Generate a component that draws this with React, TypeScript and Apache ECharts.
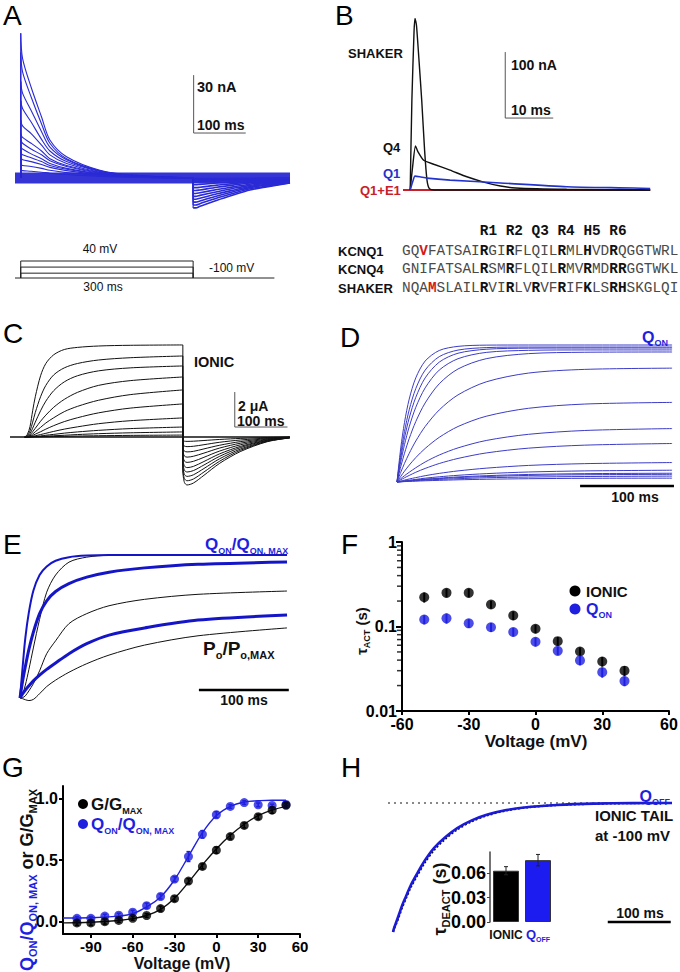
import React, { useEffect, useRef } from "react";
import * as echarts from "echarts";

const FF = "'Liberation Sans', Arial, Helvetica, sans-serif";
const MONO = "'Liberation Mono', 'Courier New', monospace";
const BLUE = "#1f1fe0";
const TRACE_BLUE = "#2a2ad6";
const D_BLUE = "#3c3cc8";
const E_BLUE = "#1515c8";
const RED = "#c8202a";

// ---------- Panel A : gating current traces (nA vs ms) ----------
const aTime = [0, 3.5, 20, 40, 56, 88, 152, 216, 331];
const aTraces = [
  [75, 62, 47, 31.6, 19.7, 11, 4, 1.5, 0],
  [65, 55, 42, 28, 18, 10, 3.8, 1.4, 0],
  [50, 44, 35, 24, 16, 9.5, 3.6, 1.3, 0],
  [40, 36, 29, 20, 14, 8.5, 3.4, 1.2, 0],
  [30, 27, 23, 17, 12, 7.5, 3, 1.1, 0],
  [23, 21, 18, 14, 10, 6.5, 2.8, 1, 0],
  [19.7, 18, 15, 12, 9, 6, 2.5, 0.9, 0],
  [16, 15, 12.5, 10, 7.5, 5, 2.2, 0.8, 0],
  [13, 12, 10.5, 8.5, 6.5, 4.5, 2, 0.7, 0],
  [10.4, 9.5, 8.5, 7, 5.5, 3.8, 1.7, 0.6, 0],
  [7, 6.5, 6, 5, 4, 2.8, 1.3, 0.4, 0],
  [4, 3.8, 3.5, 3, 2.5, 1.8, 0.8, 0.3, 0],
];
const aTailTime = [331, 336, 344, 377, 408, 440, 472, 517];
const aTails = [
  [-15.5, -15.5, -14.7, -11.5, -8.8, -6.2, -4.6, -2.6],
  [-14, -14, -13.3, -10.4, -8, -5.6, -4.2, -2.4],
  [-12.5, -12.5, -11.9, -9.3, -7.1, -5, -3.7, -2.1],
  [-11, -11, -10.5, -8.2, -6.3, -4.4, -3.3, -1.9],
  [-9.5, -9.5, -9, -7.1, -5.4, -3.8, -2.8, -1.6],
  [-8, -8, -7.6, -6, -4.6, -3.2, -2.4, -1.4],
  [-6.5, -6.5, -6.2, -4.8, -3.7, -2.6, -1.9, -1.1],
  [-5, -5, -4.8, -3.7, -2.9, -2, -1.5, -0.9],
  [-3.5, -3.5, -3.3, -2.6, -2, -1.4, -1, -0.6],
  [-2, -2, -1.9, -1.5, -1.1, -0.8, -0.6, -0.3],
  [-1, -1, -0.95, -0.75, -0.6, -0.4, -0.3, -0.2],
  [-0.3, -0.3, -0.3, -0.25, -0.2, -0.15, -0.1, -0.05],
];
const aStepEnd = 331;
const aProtocolSteps = [40, -10, -60];
const aHolding = -100;
const aProtocolEnd = 487;
const aScaleBar = [[332, 53.3], [332, 23.3], [432, 23.3]];

// ---------- Panel B : gating currents (nA vs ms) ----------
const bShakerT = [0, 0.35, 0.8, 1.0, 1.3, 1.8, 2.4, 3.0, 3.5, 4.0, 5, 50];
const bShakerV = [0, 136, 240, 260, 250, 200, 136, 60, 15, 2, 0, 0];
const bQ4T = [0, 0.5, 1.1, 1.6, 2.8, 4.9, 8.3, 11.8, 15.3, 18.8, 22, 32.6, 50];
const bQ4V = [0, 35, 66.7, 58, 45, 39, 30, 20, 12, 6, 3, 1, 0];
const bQ1T = [0, 0.5, 1.0, 2, 3.5, 8.3, 18.8, 32.6, 46.5, 50];
const bQ1V = [0, 12, 21, 20, 18, 15, 10.6, 5, 3, 2];
const bE1T = [-1.5, 50];
const bE1V = [0, 0];
const bScaleBar = [[19.8, 209], [19.8, 109], [29.8, 109]];

const seqNames = ["KCNQ1", "KCNQ4", "SHAKER"];
const seqs = [
  "GQVFATSAIRGIRFLQILRMLHVDRQGGTWRL",
  "GNIFATSALRSMRFLQILRMVRMDRRGGTWKL",
  "NQAMSLAILRVIRLVRVFRIFKLSRHSKGLQI",
];
const seqBold = [
  [9, 12, 18, 21, 24],
  [9, 12, 18, 21, 24, 25],
  [9, 12, 15, 18, 21, 24, 25],
];
const seqRed = [[2], [], [3]];
const seqHeader = "R1 R2 Q3 R4 H5 R6";

// ---------- Panel C : ionic currents (uA vs ms) ----------
const cTime = [0, 5, 10, 15, 20, 30, 40, 55, 75, 100, 140, 200, 300];
const cRise = [
  [0, 0.15, 0.6, 1.5, 2.3, 3.5, 4.2, 4.7, 5.0, 5.12, 5.2, 5.24, 5.26],
  [0, 0.08, 0.35, 0.85, 1.4, 2.3, 2.95, 3.55, 3.95, 4.2, 4.4, 4.53, 4.63],
  [0, 0.05, 0.2, 0.5, 0.85, 1.5, 2.05, 2.65, 3.15, 3.5, 3.78, 3.95, 4.06],
  [0, 0.03, 0.12, 0.3, 0.5, 0.9, 1.25, 1.7, 2.15, 2.55, 2.95, 3.22, 3.43],
  [0, 0.02, 0.07, 0.17, 0.3, 0.55, 0.8, 1.1, 1.45, 1.75, 2.1, 2.42, 2.69],
  [0, 0.01, 0.04, 0.09, 0.16, 0.3, 0.45, 0.65, 0.88, 1.1, 1.38, 1.65, 1.89],
  [0, 0, 0.02, 0.04, 0.07, 0.14, 0.21, 0.32, 0.45, 0.58, 0.76, 0.93, 1.09],
  [0, 0, 0.01, 0.02, 0.03, 0.06, 0.1, 0.15, 0.22, 0.29, 0.38, 0.48, 0.57],
  [0, 0, 0, 0.01, 0.015, 0.03, 0.05, 0.07, 0.1, 0.14, 0.19, 0.24, 0.29],
  [0, 0, 0, 0, 0.005, 0.01, 0.018, 0.027, 0.04, 0.055, 0.073, 0.092, 0.11],
];
const cTailTime = [300, 303, 308, 320, 340, 370, 410, 460, 503];
const cTails = [
  [-2.05, -2.6, -2.74, -2.63, -2.19, -1.5, -0.82, -0.27, -0.05],
  [-1.88, -2.38, -2.5, -2.4, -2.0, -1.38, -0.75, -0.25, -0.05],
  [-1.69, -2.14, -2.25, -2.16, -1.8, -1.24, -0.68, -0.23, -0.04],
  [-1.5, -1.9, -2.0, -1.92, -1.6, -1.1, -0.6, -0.2, -0.04],
  [-1.31, -1.66, -1.75, -1.68, -1.4, -0.96, -0.53, -0.18, -0.03],
  [-1.09, -1.38, -1.45, -1.39, -1.16, -0.8, -0.44, -0.15, -0.03],
  [-0.86, -1.09, -1.15, -1.1, -0.92, -0.63, -0.35, -0.12, -0.02],
  [-0.64, -0.81, -0.85, -0.82, -0.68, -0.47, -0.26, -0.09, -0.02],
  [-0.41, -0.52, -0.55, -0.53, -0.44, -0.3, -0.17, -0.06, -0.01],
  [-0.19, -0.24, -0.25, -0.24, -0.2, -0.14, -0.08, -0.03, 0],
];
const cScaleBar = [[398.5, 2.57], [398.5, 0.57], [498.5, 0.57]];

// ---------- Panel D : Q_ON (normalized) ----------
const dTime = [0, 4, 8, 13, 20, 30, 45, 65, 95, 140, 200, 293];
const dCurves = [
  [0, 0.249, 0.435, 0.605, 0.76, 0.883, 0.96, 0.99, 0.999, 1, 1, 1],
  [0, 0.207, 0.369, 0.527, 0.682, 0.817, 0.915, 0.963, 0.981, 0.985, 0.985, 0.985],
  [0, 0.177, 0.323, 0.467, 0.618, 0.76, 0.875, 0.94, 0.969, 0.977, 0.978, 0.978],
  [0, 0.148, 0.273, 0.403, 0.545, 0.687, 0.817, 0.9, 0.946, 0.961, 0.964, 0.964],
  [0, 0.112, 0.21, 0.317, 0.441, 0.577, 0.717, 0.825, 0.9, 0.937, 0.947, 0.949],
  [0, 0.071, 0.136, 0.209, 0.299, 0.405, 0.526, 0.636, 0.731, 0.795, 0.822, 0.831],
  [0, 0.041, 0.079, 0.123, 0.178, 0.245, 0.326, 0.405, 0.48, 0.538, 0.569, 0.581],
  [0, 0.024, 0.046, 0.071, 0.104, 0.146, 0.197, 0.249, 0.303, 0.348, 0.376, 0.39],
  [0, 0.016, 0.031, 0.048, 0.071, 0.099, 0.135, 0.172, 0.212, 0.247, 0.269, 0.281],
  [0, 0.007, 0.014, 0.022, 0.032, 0.046, 0.063, 0.081, 0.101, 0.121, 0.134, 0.142],
  [0, 0.004, 0.008, 0.013, 0.019, 0.028, 0.038, 0.049, 0.061, 0.073, 0.081, 0.086],
  [0, 0.003, 0.006, 0.01, 0.015, 0.021, 0.028, 0.037, 0.046, 0.055, 0.061, 0.064],
  [0, 0.003, 0.006, 0.009, 0.013, 0.018, 0.025, 0.032, 0.04, 0.048, 0.053, 0.056],
  [0, 0.002, 0.004, 0.007, 0.01, 0.014, 0.019, 0.024, 0.031, 0.036, 0.04, 0.043],
  [0, 0.001, 0.003, 0.004, 0.006, 0.009, 0.012, 0.016, 0.02, 0.024, 0.027, 0.028],
];
const dScaleBar = [[195, -0.03], [295, -0.03]];

// ---------- Panel E : Q_ON/Q_ON,MAX and Po/Po,MAX ----------
const eTime = [0, 3, 6, 10, 15, 22, 30, 40, 55, 75, 100, 140, 200, 300];
const eBlue1 = [0, 0.22, 0.42, 0.6, 0.75, 0.86, 0.92, 0.96, 0.985, 0.996, 1, 1, 1, 1];
const eBlack1 = [0, 0.03, 0.09, 0.2, 0.35, 0.55, 0.74, 0.86, 0.95, 0.985, 0.998, 1, 1, 1];
const eBlue2 = [0, 0.12, 0.22, 0.34, 0.46, 0.59, 0.68, 0.745, 0.8, 0.845, 0.88, 0.91, 0.935, 0.951];
const eBlack2 = [0, 0.003, 0.015, 0.05, 0.1, 0.19, 0.31, 0.4, 0.52, 0.59, 0.645, 0.69, 0.725, 0.748];
const eBlue3 = [0, 0.03, 0.055, 0.085, 0.12, 0.16, 0.2, 0.245, 0.31, 0.38, 0.44, 0.49, 0.545, 0.58];
const eBlack3 = [0, -0.005, -0.012, -0.018, -0.01, 0.03, 0.08, 0.125, 0.18, 0.24, 0.3, 0.37, 0.435, 0.49];
const eScaleBar = [[201, 0.056], [302, 0.056]];

// ---------- Panel F : tau_ACT vs voltage ----------
const fVolt = [-50, -40, -30, -20, -10, 0, 10, 20, 30, 40];
const fIonic = [0.222, 0.25, 0.25, 0.182, 0.135, 0.094, 0.067, 0.0506, 0.0385, 0.03];
const fIonicErr = [0.03, 0.03, 0.03, 0.02, 0.016, 0.011, 0.008, 0.006, 0.005, 0.004];
const fQon = [0.121, 0.125, 0.109, 0.098, 0.086, 0.066, 0.0515, 0.0397, 0.0288, 0.0226];
const fQonErr = [0.015, 0.017, 0.013, 0.012, 0.01, 0.008, 0.006, 0.005, 0.004, 0.003];
const fMinor = [0.02, 0.03, 0.04, 0.05, 0.06, 0.07, 0.08, 0.09, 0.2, 0.3, 0.4, 0.5, 0.6, 0.7, 0.8, 0.9];

// ---------- Panel G : normalized G-V and Q-V ----------
const gVolt = [-100, -90, -80, -70, -60, -50, -40, -30, -20, -10, 0, 10, 20, 30, 40, 50];
const gG = [-0.01, -0.01, 0.0, 0.01, 0.027, 0.05, 0.106, 0.186, 0.329, 0.448, 0.58, 0.69, 0.78, 0.851, 0.904, 0.944];
const gGErr = [0.02, 0.02, 0.02, 0.015, 0.015, 0.015, 0.02, 0.02, 0.02, 0.02, 0.025, 0.02, 0.02, 0.02, 0.025, 0.02];
const gQ = [0.027, 0.027, 0.045, 0.053, 0.077, 0.13, 0.204, 0.345, 0.528, 0.708, 0.867, 0.934, 0.966, 0.947, 0.942, 0.95];
const gQErr = [0.015, 0.015, 0.015, 0.015, 0.015, 0.02, 0.02, 0.02, 0.04, 0.03, 0.025, 0.015, 0.015, 0.015, 0.01, 0.01];
const gFitV = [-110, -90, -70, -60, -50, -40, -30, -20, -10, 0, 10, 20, 30, 40, 50];
const gFitG = [-0.01, -0.005, 0.01, 0.025, 0.05, 0.1, 0.19, 0.32, 0.46, 0.59, 0.7, 0.79, 0.86, 0.905, 0.935];
const gFitQ = [0.03, 0.032, 0.045, 0.065, 0.12, 0.2, 0.34, 0.53, 0.72, 0.86, 0.935, 0.97, 0.98, 0.985, 0.985];
const gTicks = [-90, -60, -30, 0, 30, 60];
const gYTicks = [0, 0.5, 1.0];

// ---------- Panel H : deactivation ----------
const hTime = [0, 2, 5, 9, 14, 20, 28, 38, 50, 65, 82, 102, 125, 150, 180, 215, 260, 320, 380, 443];
const hQoff = [-1.0, -0.965, -0.925, -0.87, -0.8, -0.73, -0.64, -0.55, -0.45, -0.35, -0.27, -0.195, -0.135, -0.09, -0.055, -0.031, -0.015, -0.005, -0.001, 0];
const hIonic = [-1.0, -0.97, -0.935, -0.885, -0.815, -0.745, -0.655, -0.565, -0.465, -0.365, -0.282, -0.205, -0.142, -0.095, -0.058, -0.033, -0.016, -0.006, -0.001, 0];
const hRef = [[-8, 0], [443, 0]];
const hScaleBar = [[341, -0.922], [441, -0.922]];
const hBarCats = ["IONIC", "QOFF"];
const hBarVals = [0.063, 0.076];
const hBarErr = [0.005, 0.007];
const hYTicks = [0, 0.03, 0.06];

// ---------- helpers ----------
const zip = (xs: number[], ys: number[]) => xs.map((x, i) => [x, ys[i]]);

const lineS = (gi: number, pts: any[], color: string, width: number, o: any = {}) => ({
  type: "line",
  xAxisIndex: gi,
  yAxisIndex: gi,
  data: pts,
  symbol: "none",
  silent: true,
  clip: false,
  smooth: o.smooth || false,
  z: o.z || 2,
  lineStyle: { color, width, type: o.type || "solid", opacity: o.opacity == null ? 1 : o.opacity },
});

const segs = (gi: number, rows: number[][], color: string, width: number) => ({
  type: "custom",
  xAxisIndex: gi,
  yAxisIndex: gi,
  data: rows,
  encode: { x: [0, 2], y: [1, 3] },
  silent: true,
  clip: false,
  renderItem: (_p: any, api: any) => {
    const a = api.coord([api.value(0), api.value(1)]);
    const b = api.coord([api.value(2), api.value(3)]);
    return {
      type: "line",
      shape: { x1: a[0], y1: a[1], x2: b[0], y2: b[1] },
      style: { stroke: color, lineWidth: width },
    };
  },
});

const errS = (gi: number, xs: any[], ys: number[], es: number[], color: string, cap: number, w: number) => ({
  type: "custom",
  xAxisIndex: gi,
  yAxisIndex: gi,
  data: xs.map((x, i) => [x, ys[i], es[i]]),
  encode: { x: 0, y: 1 },
  silent: true,
  z: 3,
  renderItem: (_p: any, api: any) => {
    const x = api.value(0), y = api.value(1), e = api.value(2);
    const a = api.coord([x, y + e]);
    const b = api.coord([x, y - e]);
    const st = { stroke: color, lineWidth: w };
    return {
      type: "group",
      children: [
        { type: "line", shape: { x1: a[0], y1: a[1], x2: b[0], y2: b[1] }, style: st },
        { type: "line", shape: { x1: a[0] - cap, y1: a[1], x2: a[0] + cap, y2: a[1] }, style: st },
        { type: "line", shape: { x1: b[0] - cap, y1: b[1], x2: b[0] + cap, y2: b[1] }, style: st },
      ],
    };
  },
});

const R = (S: number, s: number) => {
  const m = (c: string) => ({ fontFamily: FF, fontSize: S, fontWeight: "bold", fill: c, color: c, lineHeight: S + 5 });
  const sb = (c: string) => ({ fontFamily: FF, fontSize: s, fontWeight: "bold", fill: c, color: c, lineHeight: s, verticalAlign: "bottom" });
  return { k: m("#111"), ks: sb("#111"), b: m(BLUE), bs: sb(BLUE) };
};

const T = (x: number, y: number, text: string, o: any = {}) => ({
  type: "text",
  x,
  y,
  rotation: o.rot || 0,
  silent: true,
  z: 100,
  style: {
    text,
    fontFamily: o.mono ? MONO : FF,
    fontSize: o.size || 14,
    fontWeight: o.weight || "bold",
    fill: o.color || "#111",
    align: o.align || "left",
    verticalAlign: o.va || "middle",
    rich: o.rich,
  },
});

const seqRichText = (s: string, bold: number[], red: number[]) => {
  let out = "";
  let cur = "";
  let key = "";
  for (let i = 0; i < s.length; i++) {
    const k = red.includes(i) ? "r" : bold.includes(i) ? "b" : "n";
    if (k !== key && cur) {
      out += `{${key}|${cur}}`;
      cur = "";
    }
    key = k;
    cur += s[i];
  }
  if (cur) out += `{${key}|${cur}}`;
  return out;
};
const SEQ_SIZE = 14.4;
const seqRich = {
  n: { fontFamily: MONO, fontSize: SEQ_SIZE, fill: "#4a4a4a" },
  b: { fontFamily: MONO, fontSize: SEQ_SIZE, fontWeight: "bold", fill: "#111" },
  r: { fontFamily: MONO, fontSize: SEQ_SIZE, fontWeight: "bold", fill: "#d41a1a" },
};

const hidden = (gi: number, min: number, max: number) => ({ type: "value", gridIndex: gi, min, max, show: false });

function buildOption() {
  const grids = [
    { left: 15, top: 23.6, width: 275, height: 202.65 }, // 0 A
    { left: 15, top: 259.8, width: 275, height: 19.43 }, // 1 protocol
    { left: 403, top: 10.48, width: 247.2, height: 186.1 }, // 2 B
    { left: 10, top: 339, width: 280, height: 154 }, // 3 C
    { left: 397, top: 338.15, width: 277.9, height: 150.7 }, // 4 D
    { left: 20, top: 547.85, width: 268.8, height: 157.3 }, // 5 E
    { left: 402, top: 542, width: 267, height: 169 }, // 6 F
    { left: 63, top: 786, width: 237, height: 148 }, // 7 G
    { left: 388, top: 796.55, width: 284, height: 138 }, // 8 H
    { left: 490, top: 852, width: 64, height: 70 }, // 9 H inset
  ].map((g) => ({ ...g, outerBoundsMode: "none", containLabel: false, show: false }));

  const axLabel = (size: number, margin: number) => ({
    fontFamily: FF, fontWeight: "bold", fontSize: size, color: "#000", margin,
  });
  const axLine = { show: true, onZero: false, lineStyle: { color: "#000", width: 2 } };

  const xAxis: any[] = [
    hidden(0, -11, 517),
    hidden(1, -11, 517),
    hidden(2, -1.5, 50),
    hidden(3, -28, 503.3),
    hidden(4, 0, 296),
    hidden(5, 0, 302),
    {
      type: "value", gridIndex: 6, min: -60, max: 60, interval: 30,
      axisLine: axLine, axisTick: { show: true, length: 4, lineStyle: { width: 2, color: "#000" } },
      axisLabel: axLabel(16, 5), splitLine: { show: false },
    },
    {
      type: "value", gridIndex: 7, min: -110, max: 60,
      axisLine: axLine,
      axisTick: { show: true, length: 4, customValues: gTicks, lineStyle: { width: 2, color: "#000" } },
      axisLabel: { ...axLabel(15, 5), customValues: gTicks },
      splitLine: { show: false },
    },
    hidden(8, -8, 443),
    {
      type: "category", gridIndex: 9, data: hBarCats,
      axisLine: { show: false }, axisTick: { show: false },
      axisLabel: {
        margin: 4,
        interval: 0,
        hideOverlap: false,
        formatter: (v: string) => (v === "IONIC" ? "{k|IONIC}" : "{b|Q}{bs|OFF}"),
        rich: {
          k: { fontFamily: FF, fontWeight: "bold", fontSize: 12, color: "#111", lineHeight: 17 },
          b: { fontFamily: FF, fontWeight: "bold", fontSize: 13, color: BLUE, lineHeight: 17 },
          bs: { fontFamily: FF, fontWeight: "bold", fontSize: 7, color: BLUE, lineHeight: 7, verticalAlign: "bottom" },
        },
      },
    },
  ];

  const yAxis: any[] = [
    hidden(0, -25, 80),
    hidden(1, -110, 50),
    hidden(2, -10, 272),
    hidden(3, -3.2, 5.6),
    hidden(4, -0.05, 1.05),
    hidden(5, -0.05, 1.05),
    {
      type: "log", gridIndex: 6, min: 0.01, max: 1, logBase: 10,
      axisLine: axLine, axisTick: { show: true, length: 6, lineStyle: { width: 2, color: "#000" } },
      axisLabel: { ...axLabel(16, 5), formatter: (v: number) => (v < 0.05 ? "0.01" : v < 0.5 ? "0.1" : "1") },
      splitLine: { show: false },
    },
    {
      type: "value", gridIndex: 7, min: -0.1, max: 1.1,
      axisLine: axLine,
      axisTick: { show: true, length: 4, customValues: gYTicks, lineStyle: { width: 2, color: "#000" } },
      axisLabel: { ...axLabel(16, 5), customValues: gYTicks, formatter: (v: number) => v.toFixed(1) },
      splitLine: { show: false },
    },
    hidden(8, -1.02, 0.05),
    {
      type: "value", gridIndex: 9, min: 0, max: 0.086,
      axisLine: { show: true, lineStyle: { color: "#444", width: 1.5 } },
      axisTick: { show: true, length: 3, customValues: hYTicks, lineStyle: { color: "#444" } },
      axisLabel: { ...axLabel(18, 4), customValues: hYTicks, formatter: (v: number) => v.toFixed(2) },
      splitLine: { show: false },
    },
  ];

  const series: any[] = [];
  const SM = 0.3;

  // ---- A ----
  series.push(lineS(0, [[-11, 0], [517, 0]], "#2424d2", 11, { opacity: 0.92 }));
  aTraces.forEach((tr) => series.push(lineS(0, zip(aTime, tr), TRACE_BLUE, 1.1, { smooth: SM })));
  aTails.forEach((tl) => series.push(lineS(0, zip(aTailTime, tl), TRACE_BLUE, 1.6, { smooth: SM })));
  series.push(
    segs(0, [
      ...aTraces.map((tr) => [0, 0, 0, tr[0]]),
      ...aTails.map((tl) => [aStepEnd, 0, aStepEnd, tl[0]]),
    ], TRACE_BLUE, 1.2)
  );
  series.push(lineS(0, aScaleBar, "#555", 1));
  series.push(lineS(1, [[-11, aHolding], [aProtocolEnd, aHolding]], "#222", 1));
  aProtocolSteps.forEach((v) =>
    series.push(lineS(1, [[0, aHolding], [0, v], [aStepEnd, v], [aStepEnd, aHolding]], "#222", 1))
  );

  // ---- B ----
  series.push(lineS(2, zip(bE1T, bE1V), RED, 2.2));
  series.push(lineS(2, zip(bShakerT, bShakerV), "#111", 1.4, { smooth: 0.2 }));
  series.push(lineS(2, zip(bQ4T, bQ4V), "#111", 1.4, { smooth: 0.2 }));
  series.push(lineS(2, zip(bQ1T, bQ1V), "#2233cc", 1.6, { smooth: 0.2 }));
  series.push(lineS(2, bScaleBar, "#555", 1));

  // ---- C ----
  series.push(lineS(3, [[-28, 0], [503, 0]], "#111", 1.6));
  cRise.forEach((r) => series.push(lineS(3, zip(cTime, r), "#111", 1, { smooth: SM })));
  cTails.forEach((t) => series.push(lineS(3, zip(cTailTime, t), "#111", 1, { smooth: SM })));
  series.push(segs(3, cRise.map((r, i) => [300, r[r.length - 1], 300, cTails[i][0]]), "#111", 1));
  series.push(lineS(3, cScaleBar, "#555", 1));

  // ---- D ----
  dCurves.forEach((c) => series.push(lineS(4, zip(dTime, c), D_BLUE, 1, { smooth: SM })));
  series.push(lineS(4, dScaleBar, "#000", 2.5));

  // ---- E ----
  series.push(lineS(5, zip(eTime, eBlack3), "#111", 1, { smooth: SM }));
  series.push(lineS(5, zip(eTime, eBlack2), "#111", 1, { smooth: SM }));
  series.push(lineS(5, zip(eTime, eBlack1), "#111", 1, { smooth: SM }));
  series.push(lineS(5, zip(eTime, eBlue3), E_BLUE, 3, { smooth: SM }));
  series.push(lineS(5, zip(eTime, eBlue2), E_BLUE, 3, { smooth: SM }));
  series.push(lineS(5, zip(eTime, eBlue1), E_BLUE, 2, { smooth: SM }));
  series.push(lineS(5, eScaleBar, "#000", 2.5));

  // ---- F ----
  series.push(errS(6, fVolt, fIonic, fIonicErr, "#000", 0, 2));
  series.push(errS(6, fVolt, fQon, fQonErr, BLUE, 0, 2));
  series.push({
    type: "scatter", xAxisIndex: 6, yAxisIndex: 6, data: zip(fVolt, fIonic), symbol: "circle",
    symbolSize: 10, itemStyle: { color: "#000" }, silent: true, z: 4,
  });
  series.push({
    type: "scatter", xAxisIndex: 6, yAxisIndex: 6, data: zip(fVolt, fQon), symbol: "circle",
    symbolSize: 10, itemStyle: { color: BLUE }, silent: true, z: 4,
  });
  series.push({
    type: "scatter", xAxisIndex: 6, yAxisIndex: 6, data: fMinor.map((v) => [-60, v]), symbol: "rect",
    symbolSize: [4, 1.5], symbolOffset: [-3, 0], itemStyle: { color: "#000" }, silent: true, clip: false, z: 5,
  });

  // ---- G ----
  series.push(lineS(7, zip(gFitV, gFitG), "#111", 1.4, { smooth: 0.4 }));
  series.push(lineS(7, zip(gFitV, gFitQ), BLUE, 1.4, { smooth: 0.4 }));
  series.push(errS(7, gVolt, gQ, gQErr, BLUE, 2, 1.5));
  series.push(errS(7, gVolt, gG, gGErr, "#000", 2, 1.5));
  series.push({
    type: "scatter", xAxisIndex: 7, yAxisIndex: 7, data: zip(gVolt, gQ), symbol: "circle",
    symbolSize: 9, itemStyle: { color: BLUE }, silent: true, z: 4,
  });
  series.push({
    type: "scatter", xAxisIndex: 7, yAxisIndex: 7, data: zip(gVolt, gG), symbol: "circle",
    symbolSize: 9, itemStyle: { color: "#000" }, silent: true, z: 4,
  });

  // ---- H ----
  series.push(lineS(8, hRef, "#888", 2, { type: [2, 4] }));
  series.push(lineS(8, zip(hTime, hIonic), "#111", 2.2, { smooth: SM, type: [2, 2] }));
  series.push(lineS(8, zip(hTime, hQoff), "#1a1ad8", 2.6, { smooth: SM }));
  series.push(lineS(8, hScaleBar, "#000", 2.5));
  series.push({
    type: "bar", xAxisIndex: 9, yAxisIndex: 9, barWidth: 26, silent: true,
    data: hBarVals.map((v, i) => ({ value: v, itemStyle: { color: i === 0 ? "#000" : "#1c1cf0", borderColor: "#333", borderWidth: 1 } })),
  });
  series.push({ ...errS(9, [0, 1], hBarVals, hBarErr, "#222", 2, 1), z: 5 });

  // ---- texts ----
  const big = (x: number, y: number, t: string) => T(x, y, t, { size: 28, weight: "normal", color: "#000" });
  const rowY = [251, 269, 288];
  const adv = SEQ_SIZE * 0.6;

  const graphic: any[] = [
    // A
    big(3, 15, "A"),
    T(197, 87, "30 nA", { size: 14.5 }),
    T(197, 125, "100 ms", { size: 14 }),
    T(100, 249, "40 mV", { size: 12, weight: "normal", align: "center" }),
    T(209, 268, "-100 mV", { size: 12, weight: "normal" }),
    T(103, 287, "300 ms", { size: 12, weight: "normal", align: "center" }),
    // B
    big(335, 15, "B"),
    T(348, 53, "SHAKER", { size: 13 }),
    T(383, 147, "Q4", { size: 13 }),
    T(383, 173, "Q1", { size: 13, color: "#2233cc" }),
    T(360, 190, "Q1+E1", { size: 13, color: RED }),
    T(511, 65, "100 nA", { size: 14 }),
    T(511, 110, "10 ms", { size: 14 }),
    T(402 + 9 * adv, 231, seqHeader, { mono: true, size: SEQ_SIZE, color: "#111" }),
    ...seqNames.map((n, i) => T(338, rowY[i], n, { size: 13 })),
    ...seqs.map((s, i) => T(402, rowY[i], seqRichText(s, seqBold[i], seqRed[i]), { mono: true, size: SEQ_SIZE, weight: "normal", rich: seqRich })),
    // C
    big(3, 333, "C"),
    T(194, 362, "IONIC", { size: 14.5 }),
    T(238, 406, "2 μA", { size: 14 }),
    T(237, 421, "100 ms", { size: 14 }),
    // D
    big(340, 337, "D"),
    T(668, 337, "{b|Q}{bs|ON}", { align: "right", rich: R(16, 9) }),
    T(635, 497, "100 ms", { size: 14, align: "center" }),
    // E
    big(3, 544, "E"),
    T(205, 544, "{b|Q}{bs|ON}{b|/Q}{bs|ON, MAX}", { rich: R(17, 9) }),
    T(203, 648, "{k|P}{ks|o}{k|/P}{ks|o,MAX}", { rich: R(19, 11) }),
    T(244, 700, "100 ms", { size: 14, align: "center" }),
    // F
    big(341, 544, "F"),
    { type: "circle", shape: { cx: 575, cy: 591, r: 5.5 }, style: { fill: "#000" }, z: 100, silent: true },
    { type: "circle", shape: { cx: 575, cy: 609, r: 5.5 }, style: { fill: BLUE }, z: 100, silent: true },
    T(586, 591, "IONIC", { size: 15 }),
    T(586, 609, "{b|Q}{bs|ON}", { rich: R(16, 9) }),
    T(361, 631, "{k|τ}{ks|ACT}{k| (s)}", { rich: R(15, 9), rot: Math.PI / 2, align: "center" }),
    T(536, 741, "Voltage (mV)", { size: 17, align: "center" }),
    // G
    big(2, 767, "G"),
    { type: "circle", shape: { cx: 83, cy: 804, r: 5 }, style: { fill: "#000" }, z: 100, silent: true },
    { type: "circle", shape: { cx: 83, cy: 824, r: 5 }, style: { fill: BLUE }, z: 100, silent: true },
    T(91, 804, "{k|G/G}{ks|MAX}", { rich: R(17, 9) }),
    T(91, 824, "{b|Q}{bs|ON}{b|/Q}{bs|ON, MAX}", { rich: R(17, 9) }),
    T(27, 880, "{b|Q}{bs|ON}{b|/Q}{bs|ON, MAX}{k| or G/G}{ks|MAX}", { rich: R(18, 11), rot: Math.PI / 2, align: "center" }),
    T(182, 963, "Voltage (mV)", { size: 16, align: "center" }),
    // H
    big(341, 767, "H"),
    T(670, 796, "{b|Q}{bs|OFF}", { align: "right", rich: R(16, 9) }),
    T(595, 815, "IONIC TAIL", { size: 15 }),
    T(595, 835, "at -100 mV", { size: 15 }),
    T(640, 913, "100 ms", { size: 14, align: "center" }),
    T(440, 899, "{k|τ}{ks|DEACT}{k| (s)}", { rich: R(18, 11), rot: Math.PI / 2, align: "center" }),
  ];

  return {
    animation: false,
    backgroundColor: "#fff",
    grid: grids,
    xAxis,
    yAxis,
    series,
    graphic: { elements: graphic },
  };
}

export default function App() {
  const ref = useRef<HTMLDivElement>(null);
  useEffect(() => {
    document.body.style.margin = "0";
    const chart = echarts.init(ref.current as HTMLDivElement, null, { renderer: "svg" });
    chart.setOption(buildOption() as any);
    return () => chart.dispose();
  }, []);
  return (
    <div
      ref={ref}
      style={{ width: 680, height: 972, position: "absolute", left: 0, top: 0, background: "#fff" }}
    />
  );
}
